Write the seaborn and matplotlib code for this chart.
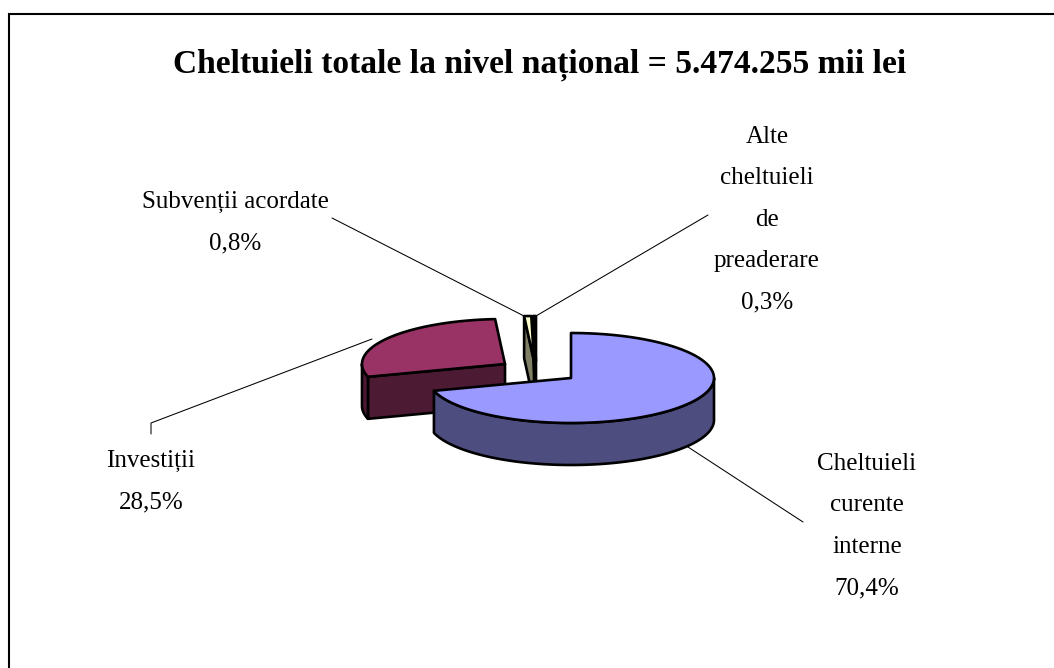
import numpy as np
import matplotlib
matplotlib.use("Agg")
import matplotlib.pyplot as plt
import seaborn as sns

categories = ["Cheltuieli\ncurente\ninterne", "Investiții", "Subvenții acordate", "Alte\ncheltuieli\nde\npreaderare"]
shares = [70.4, 28.5, 0.8, 0.3]
share_labels = ["70,4%", "28,5%", "0,8%", "0,3%"]
top_colors = ["#9999FF", "#993366", "#FFFFCC", "#CCFFFF"]
side_colors = ["#4D4D80", "#4D1A33", "#808066", "#668080"]

title = "Cheltuieli totale la nivel național = 5.474.255 mii lei"

# pie layout, in pixels of the figure
centers = [(571, 378), (505, 364), (534, 361), (536, 361)]
rx, ry, depth = 143, 45, 42
label_pos = [(867, 526), (151, 482), (235, 222.5), (767, 219.5)]
leaders = [
    [(688, 447), (803, 522)],
    [(151, 434), (151, 423), (372, 339)],
    [(332, 218), (524, 316)],
    [(708, 215), (536, 316)],
]

sns.set_theme(style="white")
plt.rcParams["font.family"] = ["Liberation Serif", "DejaVu Serif"]

fig = plt.figure(figsize=(10.54, 6.68), dpi=100)
ax = fig.add_axes([0, 0, 1, 1])
ax.set_xlim(0, 1054)
ax.set_ylim(668, 0)
ax.axis("off")

# chart frame, only top and left are in view
ax.plot([1054, 9, 9], [13.5, 13.5, 668], color="black", lw=1.5, solid_joinstyle="miter")


def rim(center, a0, a1):
    ang = np.radians(np.linspace(a0, a1, max(int(abs(a1 - a0)) + 2, 3)))
    return center[0] + rx * np.sin(ang), center[1] - ry * np.cos(ang)


def draw_slice(center, a0, a1, top, side, z):
    x, y = rim(center, a0, a1)
    style = dict(edgecolor="black", lw=1.9, joinstyle="round", zorder=z)
    # only the walls that face the viewer get drawn
    if np.sin(np.radians(a0)) < 0:
        ax.fill([center[0], x[0], x[0], center[0]],
                [center[1], y[0], y[0] + depth, center[1] + depth], facecolor=side, **style)
    if np.sin(np.radians(a1)) > 0:
        ax.fill([center[0], x[-1], x[-1], center[0]],
                [center[1], y[-1], y[-1] + depth, center[1] + depth], facecolor=side, **style)
    lo, hi = max(a0, 90), min(a1, 270)
    if hi > lo:
        xw, yw = rim(center, lo, hi)
        ax.fill(np.r_[xw, xw[::-1]], np.r_[yw, yw[::-1] + depth], facecolor=side, **style)
    ax.fill(np.r_[center[0], x], np.r_[center[1], y], facecolor=top, **style)


starts = np.r_[0, np.cumsum(shares)[:-1]] * 3.6
ends = np.cumsum(shares) * 3.6

# back slices first, main slice sits in front of everything
for i in [1, 2, 3, 0]:
    draw_slice(centers[i], starts[i], ends[i], top_colors[i], side_colors[i], 3 + [3, 0, 1, 2][i])

for pts in leaders:
    xs, ys = zip(*pts)
    ax.plot(xs, ys, color="black", lw=0.75, zorder=2)

for cat, lab, (x, y) in zip(categories, share_labels, label_pos):
    ax.text(x, y, cat + "\n" + lab, ha="center", va="center", fontsize=18,
            linespacing=2.14, color="black")

ax.text(540, 65, title, ha="center", va="center", fontsize=24.1, fontweight="bold", color="black")

fig.savefig("out.png", dpi=100)
